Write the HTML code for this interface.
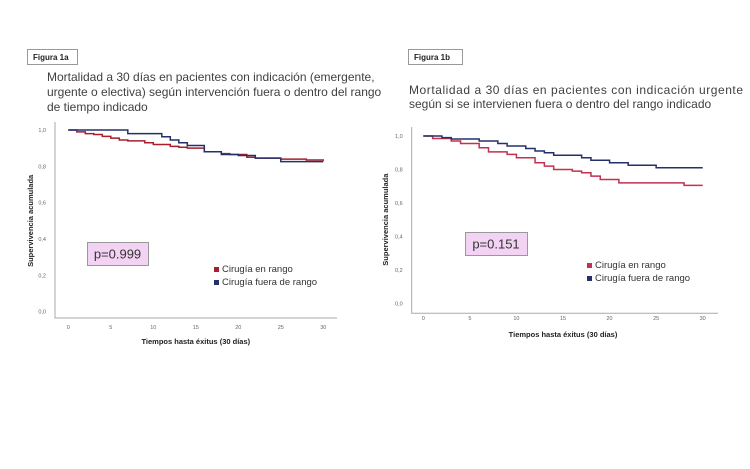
<!DOCTYPE html>
<html><head><meta charset="utf-8">
<style>
body{margin:0;background:#fff;width:750px;height:469px;overflow:hidden;font-family:"Liberation Sans",sans-serif;}
svg{position:absolute;left:0;top:0}
</style></head>
<body>
<svg id="s" width="750" height="469">
  <g>
    <rect x="27.5" y="49.5" width="50" height="15" fill="#fff" stroke="#999"/>
    <text x="33" y="60" font-size="8" font-weight="bold" fill="#222">Figura 1a</text>
    <text font-size="12" fill="#404040">
      <tspan x="47" y="81">Mortalidad a 30 días en pacientes con indicación (emergente,</tspan>
      <tspan x="47" y="96">urgente o electiva) según intervención fuera o dentro del rango</tspan>
      <tspan x="47" y="111">de tiempo indicado</tspan>
    </text>
  </g>
  <g>
    <rect x="408.5" y="49.5" width="54" height="15" fill="#fff" stroke="#999"/>
    <text x="414" y="60" font-size="8" font-weight="bold" fill="#222">Figura 1b</text>
    <text font-size="12" fill="#404040">
      <tspan x="409" y="94" textLength="334" lengthAdjust="spacing">Mortalidad a 30 días en pacientes con indicación urgente</tspan>
      <tspan x="409" y="108">según si se intervienen fuera o dentro del rango indicado</tspan>
    </text>
  </g>
</svg>
<script>
// Chart 1a data
const days = [0,5,10,15,20,25,30];
const yTicks = [0,0.2,0.4,0.6,0.8,1.0];
const yTickLabels = ["0,0","0,2","0,4","0,6","0,8","1,0"];
const a_red_t = [0,1,2,3,4,5,6,7,9,10,12,13,14,16,18,19,21,22,25,28,30];
const a_red_s = [1,0.99,0.98,0.975,0.965,0.955,0.945,0.94,0.93,0.92,0.91,0.905,0.9,0.88,0.87,0.865,0.85,0.845,0.84,0.835,0.83];
const a_blue_t = [0,7,11,12,13,14,16,18,20,22,25,30];
const a_blue_s = [1,0.98,0.963,0.945,0.93,0.915,0.88,0.865,0.86,0.845,0.826,0.826];
// Chart 1b data
const b_red_t = [0,1,3,4,6,7,9,10,12,13,14,16,17,18,19,21,28,30];
const b_red_s = [1,0.985,0.97,0.955,0.93,0.905,0.89,0.87,0.84,0.82,0.8,0.79,0.78,0.76,0.74,0.72,0.705,0.705];
const b_blue_t = [0,2,3,6,8,9,11,12,13,14,17,18,20,22,25,30];
const b_blue_s = [1,0.99,0.982,0.97,0.955,0.94,0.925,0.91,0.9,0.885,0.87,0.855,0.84,0.825,0.81,0.81];
const legendLabels = ["Cirugía en rango","Cirugía fuera de rango"];

const svg = document.getElementById('s');
const NS = 'http://www.w3.org/2000/svg';
function mk(tag, attrs, parent){
  const e = document.createElementNS(NS, tag);
  for (const k in attrs) e.setAttribute(k, attrs[k]);
  (parent||svg).appendChild(e);
  return e;
}
function chart(c){
  const g = mk('g', {});
  
  
  const xs = t => c.x0 + (c.x30 - c.x0) * t / 30;
  const ys = v => c.y0 - (c.y0 - c.y1) * v;
  const ax = mk('path', {d:`M${c.axL} ${c.axT} V${c.axB} H${c.axR}`, fill:'none', stroke:'#aaa', 'stroke-width':1}, g);
  
  
  yTicks.forEach((v,i)=>{
    const t = mk('text', {x:c.axL-9, y:ys(v)+2, 'font-size':5.5, fill:'#666', 'text-anchor':'end'}, g);
    t.textContent = yTickLabels[i];
    
    
  });
  days.forEach(d=>{
    const t = mk('text', {x:xs(d), y:c.tickY, 'font-size':5.5, fill:'#666', 'text-anchor':'middle'}, g);
    t.textContent = String(d);
    
    
  });
  const xt = mk('text', {x:(c.x0+c.x30)/2, y:c.xTitleY, 'font-size':7.5, 'font-weight':'bold', fill:'#222', 'text-anchor':'middle'}, g);
  xt.textContent = 'Tiempos hasta éxitus (30 días)';
  
  
  const cy = (c.y0+c.y1)/2;
  const yt = mk('text', {x:c.yTitleX, y:cy, 'font-size':7.5, 'font-weight':'bold', fill:'#222', 'text-anchor':'middle', transform:`rotate(-90 ${c.yTitleX} ${cy})`}, g);
  yt.textContent = 'Supervivencia acumulada';
  
  
  c.series.forEach(s=>{
    let d = `M${xs(s.t[0])} ${ys(s.s[0])}`;
    for (let i=1;i<s.t.length;i++){ d += ` H${xs(s.t[i])} V${ys(s.s[i])}`; }
    const p = mk('path', {d, fill:'none', stroke:s.color, 'stroke-width':1.5}, g);
    
    
  });
  const pb = mk('rect', {x:c.pb[0]+.5, y:c.pb[1]+.5, width:c.pb[2], height:c.pb[3], fill:'#f3d3f3', stroke:'#999'}, g);
  
  
  const pt = mk('text', {x:c.pb[0]+c.pb[2]/2, y:c.pb[1]+c.pb[3]/2+5, 'font-size':13, fill:'#333', 'text-anchor':'middle'}, g);
  pt.textContent = c.p;
  
  
  legendLabels.forEach((l,i)=>{
    const y = c.legY + i*13;
    const sq = mk('rect', {x:c.legX, y:y-5, width:5, height:5, fill:c.series[i].color}, g);
    
    
    const t = mk('text', {x:c.legX+8, y:y, 'font-size':9.5, fill:'#333'}, g);
    t.textContent = l;
    
    
  });
}
chart({name:'chart-1a', x0:68.3, x30:323.3, y0:311.7, y1:130, axL:55, axT:122, axB:318, axR:337,
  tickY:329, xTitleY:344, yTitleX:33, pb:[87,242,61,23], p:'p=0.999', legX:214, legY:272,
  series:[{name:'series-en-rango', t:a_red_t, s:a_red_s, color:'#a81e2c'},
          {name:'series-fuera-de-rango', t:a_blue_t, s:a_blue_s, color:'#23306a'}]});
chart({name:'chart-1b', x0:423.3, x30:702.7, y0:303.3, y1:136, axL:411.7, axT:127, axB:313.3, axR:718,
  tickY:320, xTitleY:337, yTitleX:388, pb:[465,232,62,23], p:'p=0.151', legX:587, legY:268,
  series:[{name:'series-en-rango', t:b_red_t, s:b_red_s, color:'#c2314f'},
          {name:'series-fuera-de-rango', t:b_blue_t, s:b_blue_s, color:'#23306a'}]});
</script>
</body></html>
